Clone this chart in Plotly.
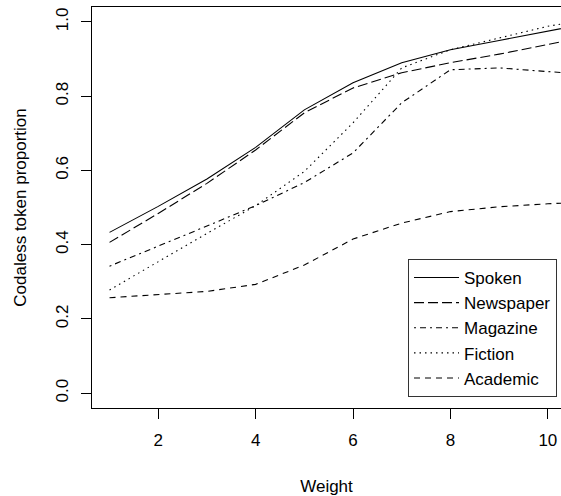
import plotly.graph_objects as go

weight = [1, 2, 3, 4, 5, 6, 7, 8, 9, 10, 11]
spoken = [0.433, 0.503, 0.577, 0.662, 0.763, 0.836, 0.890, 0.925, 0.950, 0.975, 1.000]
newspaper = [0.406, 0.484, 0.565, 0.655, 0.755, 0.822, 0.863, 0.890, 0.913, 0.940, 0.965]
magazine = [0.342, 0.395, 0.450, 0.505, 0.567, 0.647, 0.782, 0.871, 0.876, 0.866, 0.857]
fiction = [0.278, 0.355, 0.430, 0.505, 0.597, 0.728, 0.876, 0.925, 0.957, 0.988, 1.010]
academic = [0.257, 0.265, 0.274, 0.293, 0.345, 0.415, 0.458, 0.489, 0.502, 0.510, 0.516]

series = [
    ("Spoken", spoken, "solid"),
    ("Newspaper", newspaper, "10px,4px"),
    ("Magazine", magazine, "2px,4px,6px,4px"),
    ("Fiction", fiction, "1.5px,4px"),
    ("Academic", academic, "6px,5px"),
]

FONT = "Liberation Sans, Arial, Helvetica, sans-serif"

fig = go.Figure()
for name, vals, dash in series:
    fig.add_trace(go.Scatter(x=weight, y=vals, mode="lines", name=name,
                             line=dict(color="black", width=1.1, dash=dash)))

fig.update_layout(
    width=561, height=496,
    margin=dict(l=92, r=0, t=7, b=88),
    paper_bgcolor="white", plot_bgcolor="white",
    font=dict(family=FONT, size=17, color="black"),
    showlegend=True,
    legend=dict(x=0.9915, y=0.0274, xanchor="right", yanchor="bottom",
                bordercolor="#333333", borderwidth=1, bgcolor="white",
                font=dict(size=17), tracegroupgap=0, itemwidth=45),
)
fig.update_xaxes(
    range=[0.64, 10.27], tickvals=[2, 4, 6, 8, 10],
    showgrid=False, zeroline=False,
    showline=True, linecolor="black", linewidth=1, mirror=True,
    ticks="outside", ticklen=10, tickcolor="black", tickwidth=1,
    ticklabelstandoff=7,
    title=dict(text="Weight", standoff=33, font=dict(size=17)),
)
fig.update_yaxes(
    range=[-0.04, 1.04], tickvals=[0, 0.2, 0.4, 0.6, 0.8, 1.0], tickformat=".1f",
    tickangle=-90,
    showgrid=False, zeroline=False,
    showline=True, linecolor="black", linewidth=1, mirror=False,
    ticks="outside", ticklen=10, tickcolor="black", tickwidth=1,
    ticklabelstandoff=6,
    title=dict(text="Codaless token proportion", standoff=22, font=dict(size=17)),
)

fig.write_html("out.html")
